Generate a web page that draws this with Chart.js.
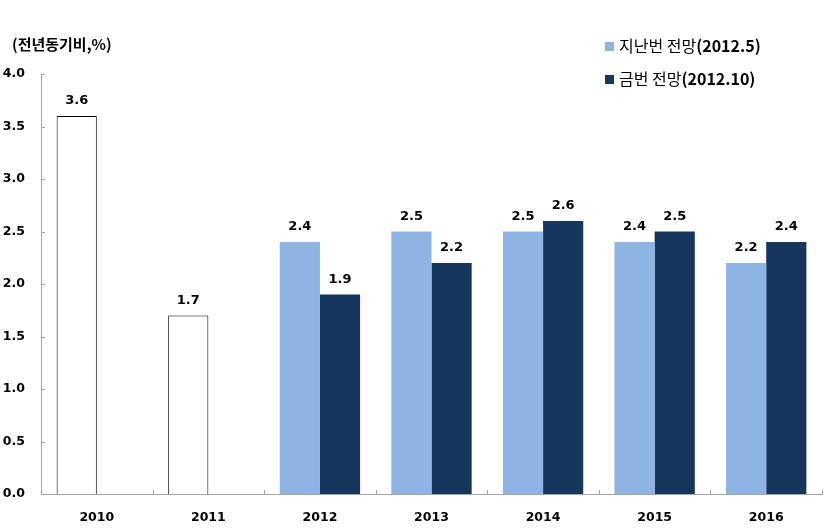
<!DOCTYPE html>
<html>
<head>
<meta charset="utf-8">
<script src="https://cdn.jsdelivr.net/npm/chart.js@4/dist/chart.umd.min.js"></script>
<style>
  body { margin: 0; background: #fff; }
  #wrap { position: relative; width: 832px; height: 529px; }
  #ytitle { position: absolute; left: 12px; top: 33px; font: bold 15px "Noto Sans CJK KR", sans-serif; color: #000; }
  #legend { position: absolute; left: 605px; top: 32px; font: 16px "Noto Sans CJK KR", sans-serif; color: #000; }
  #legend div { height: 33px; line-height: 26px; white-space: nowrap; }
  #legend i { display: inline-block; width: 9px; height: 9px; margin-right: 5px; vertical-align: 1px; }
  #legend b { font-weight: bold; }
</style>
</head>
<body>
<div id="wrap">
  <canvas id="c" width="832" height="529"></canvas>
  <div id="ytitle">(전년동기비,%)</div>
  <div id="legend"></div>
</div>
<script>
const YEARS = ["2010", "2011", "2012", "2013", "2014", "2015", "2016"];
// 실적치
const ACTUAL = [3.6, 1.7, null, null, null, null, null];
// 지난번 전망(2012.5)
const PREV = [null, null, 2.4, 2.5, 2.5, 2.4, 2.2];
// 금번 전망(2012.10)
const CURR = [null, null, 1.9, 2.2, 2.6, 2.5, 2.4];
const Y_TICKS = [0, 0.5, 1.0, 1.5, 2.0, 2.5, 3.0, 3.5, 4.0];

const LIGHT = "#8DB4E2";
const DARK = "#17365D";
const AXIS = "#A6A6A6";
const NUM_FONT = '"DejaVu Sans", sans-serif';

const LEGEND = [
  { name: "지난번 전망", tag: "(2012.5)", color: LIGHT },
  { name: "금번 전망", tag: "(2012.10)", color: DARK },
];
document.getElementById("legend").innerHTML = LEGEND.map((l) =>
  `<div><i style="background:${l.color}"></i>${l.name}<b>${l.tag}</b></div>`
).join("");

const valueLabels = {
  id: "valueLabels",
  afterDatasetsDraw(chart) {
    const ctx = chart.ctx;
    ctx.save();
    ctx.font = "bold 13px " + NUM_FONT;
    ctx.fillStyle = "#000";
    ctx.textAlign = "center";
    ctx.textBaseline = "middle";
    chart.data.datasets.forEach((ds, i) => {
      chart.getDatasetMeta(i).data.forEach((bar, j) => {
        if (ds.data[j] == null) return;
        ctx.fillText(ds.data[j].toFixed(1), bar.x, bar.y - 15);
      });
    });
    ctx.restore();
  }
};

// 축 안쪽 눈금
const innerTicks = {
  id: "innerTicks",
  afterDraw(chart) {
    const ctx = chart.ctx;
    const x = chart.scales.x, y = chart.scales.y;
    ctx.save();
    ctx.strokeStyle = AXIS;
    ctx.lineWidth = 1;
    ctx.beginPath();
    Y_TICKS.forEach((v) => {
      const py = Math.round(y.getPixelForValue(v)) + 0.5;
      ctx.moveTo(x.left, py);
      ctx.lineTo(x.left + 4, py);
    });
    const step = (x.right - x.left) / YEARS.length;
    for (let i = 1; i <= YEARS.length; i++) {
      const px = Math.round(x.left + step * i) + 0.5;
      ctx.moveTo(px, y.bottom);
      ctx.lineTo(px, y.bottom - 4);
    }
    ctx.stroke();
    ctx.restore();
  }
};

new Chart(document.getElementById("c"), {
  type: "bar",
  data: {
    labels: YEARS,
    datasets: [
      { label: "실적", data: ACTUAL, stack: "a", backgroundColor: "#fff", borderColor: "#000", borderWidth: 1 },
      { label: "지난번 전망(2012.5)", data: PREV, stack: "a", backgroundColor: LIGHT, borderWidth: 0 },
      { label: "금번 전망(2012.10)", data: CURR, stack: "b", backgroundColor: DARK, borderWidth: 0 },
    ]
  },
  options: {
    responsive: false,
    animation: false,
    layout: { padding: { top: 74, right: 10, left: 0, bottom: 0 } },
    categoryPercentage: 0.72,
    barPercentage: 1,
    plugins: { legend: { display: false }, tooltip: { enabled: false } },
    scales: {
      x: {
        stacked: true,
        grid: { display: false, drawTicks: false },
        border: { display: true, color: AXIS, width: 1 },
        ticks: { color: "#000", font: { family: NUM_FONT, size: 12.5, weight: "bold" }, padding: 16 },
        afterFit(s) { s.height = 35; }
      },
      y: {
        stacked: true,
        min: 0,
        max: 4,
        grid: { display: false, drawTicks: false },
        border: { display: true, color: AXIS, width: 1 },
        afterBuildTicks(s) { s.ticks = Y_TICKS.map((v) => ({ value: v })); },
        ticks: {
          color: "#000",
          font: { family: NUM_FONT, size: 12.5, weight: "bold" },
          padding: 16,
          callback: (v) => v.toFixed(1)
        },
        afterFit(s) { s.width = 41; }
      }
    }
  },
  plugins: [valueLabels, innerTicks]
});
</script>
</body>
</html>
